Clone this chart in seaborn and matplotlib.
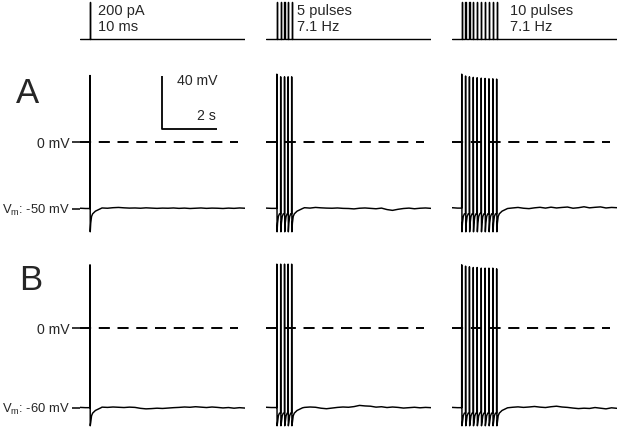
import numpy as np
import seaborn as sns
from matplotlib import pyplot as plt

# figure size in pixels (dpi 100)
W, H = 617, 430

# ---- data ----
row_names = ["A", "B"]
rest_mv = [-50, -60]                # resting potential of each row
trough_mv = [-67.5, -73.5]          # spike undershoot of each row

# stimulus pulse / spike times (s) for each column
spike_times = [
    [0.36],
    [0.39, 0.53, 0.67, 0.80, 0.93],
    [0.35, 0.49, 0.63, 0.77, 0.91, 1.06, 1.20, 1.34, 1.48, 1.62],
]

# spike peaks (mV), row A then row B
peaks_a = [
    [50],
    [51, 49, 49, 49, 49],
    [51, 49.6, 49, 48.6, 48.3, 48, 47.8, 47.5, 47.5, 47.3],
]
peaks_b = [
    [47.5],
    [48, 48, 48, 48, 48],
    [47.5, 46.5, 46, 45.5, 45.5, 45, 45, 45, 45, 44.5],
]

# afterhyperpolarisation after each spike: time after spike (s), offset from rest (mV)
ahp_dt = [0.03, 0.06, 0.10, 0.14, 0.20, 0.30, 0.40]
ahp_dv = [-11, -6, -4, -3.2, -2, -1, 0]

# baseline fluctuation (mV from rest), one value every 0.2 s from 0 to 6 s
noise_t = np.arange(31) * 0.2
noise_a = [
    [0.2, 0.0, 0.3, 0.1, 0.4, 0.2, 0.6, 0.8, 0.5, 0.3, 0.4, 0.2, 0.5, 0.3, 0.1, 0.3,
     0.2, 0.4, 0.1, 0.3, 0.0, 0.2, 0.4, 0.1, 0.3, 0.2, 0.0, 0.3, 0.1, 0.4, 0.2],
    [0.3, 0.1, 0.2, 0.0, 0.3, 0.5, 0.4, 0.6, 0.3, 0.8, 0.5, 0.3, 0.2, 0.4, 0.1, 0.0,
     -0.3, 0.2, 0.4, 0.1, -0.2, 0.3, -0.8, -1.4, -0.6, 0.0, 0.3, -0.2, 0.2, 0.4, 0.1],
    [0.6, 0.3, 0.5, 0.2, 0.4, 0.1, 0.3, 0.6, 0.9, 0.7, 1.2, 0.4, 0.8, 0.2, -0.1, 0.5,
     0.9, 0.3, 1.0, 0.4, 0.8, 1.1, 0.2, 0.6, 1.3, 0.5, 0.9, 1.2, 0.4, 0.8, 0.6],
]
noise_b = [
    [0.3, 0.1, 0.4, 0.2, 0.5, 0.3, 0.6, 0.4, 0.2, 0.5, 0.3, -0.4, -0.8, -0.6, -0.3, -0.5,
     -0.2, 0.1, 0.3, 0.6, 0.4, 0.8, 0.5, 0.2, 0.6, 0.3, -0.1, 0.2, -0.3, 0.1, -0.2],
    [0.4, 0.2, 0.3, 0.1, 0.4, 0.2, 0.5, 0.3, 0.6, 0.4, -0.3, -0.7, -0.2, 0.3, 0.6, 0.4,
     0.9, 1.8, 1.4, 1.2, 0.5, 0.8, 0.2, 0.6, 0.3, -0.2, 0.1, 0.4, 0.0, 0.3, 0.1],
    [0.3, 0.1, 0.4, 0.2, 0.5, 0.3, 0.2, 0.5, 0.3, 0.6, 0.9, 0.4, 0.7, 0.3, 0.6, 1.0,
     0.5, 0.2, 0.8, 1.2, 0.6, 0.3, -0.2, -0.6, -0.3, -0.5, 0.2, -0.3, -0.8, 0.0, -0.4],
]

# stimulus
stim_amp_pa = 200
pulse_width_s = 0.01
stim_labels = [("200 pA", "10 ms"), ("5 pulses", "7.1 Hz"), ("10 pulses", "7.1 Hz")]

# scale bar (s, mV) drawn in panel A, first column
scale_t = [3.0, 3.0, 5.0]
scale_v = [50.0, 10.0, 10.0]
zero_line_end_s = 5.75
trace_len_s = 6.0

# ---- layout (pixels) ----
col_x0 = [80, 266, 452]
px_per_s = 27.5
px_per_mv = 1.33
zero_px = [142, 328]
ylims = [(-75, 55), (-76, 55)]
stim_base_px = 39
stim_top_px = 2
label_x_px = [98, 297, 510]


def px_rect(left, top, right, bottom):
    return [left / W, 1 - bottom / H, (right - left) / W, (bottom - top) / H]


def build_trace(base, noise, spikes, peaks, trough):
    t, v = [], []
    for tt, nv in zip(noise_t, noise):
        if tt < spikes[0]:
            t.append(tt)
            v.append(base + nv)
    for i, ts in enumerate(spikes):
        nxt = spikes[i + 1] if i + 1 < len(spikes) else None
        t += [ts, ts + 0.004, ts + 0.012]
        v += [v[-1], peaks[i], base + trough]
        for dt, dv in zip(ahp_dt, ahp_dv):
            if nxt is not None and ts + dt > nxt - 0.002:
                break
            t.append(ts + dt)
            v.append(base + dv)
    end = spikes[-1] + ahp_dt[-1]
    for tt, nv in zip(noise_t, noise):
        if tt > end:
            t.append(tt)
            v.append(base + nv)
    return np.array(t), np.array(v)


sns.set_style("white")
plt.rcParams["font.family"] = ["Liberation Sans", "DejaVu Sans"]
plt.rcParams["mathtext.default"] = "regular"
plt.rcParams["lines.scale_dashes"] = False

fig = plt.figure(figsize=(W / 100, H / 100), dpi=100)

# stimulus traces
for c in range(3):
    x0 = col_x0[c]
    top_pa = stim_amp_pa * stim_base_px / (stim_base_px - stim_top_px)
    bot_pa = -stim_amp_pa * 3 / (stim_base_px - stim_top_px)
    ax = fig.add_axes(px_rect(x0, 0, x0 + trace_len_s * px_per_s, stim_base_px + 3))
    st, sv = [0.0], [0.0]
    for ts in spike_times[c]:
        st += [ts, ts, ts + pulse_width_s, ts + pulse_width_s]
        sv += [0, stim_amp_pa, stim_amp_pa, 0]
    st.append(trace_len_s)
    sv.append(0)
    sns.lineplot(x=st, y=sv, ax=ax, color="black", lw=1.0, estimator=None, sort=False)
    ax.set_xlim(0, trace_len_s)
    ax.set_ylim(bot_pa, top_pa)
    ax.axis("off")
    line1, line2 = stim_labels[c]
    fig.text(label_x_px[c] / W, 1 - 15 / H, line1, fontsize=10.5, va="baseline")
    fig.text(label_x_px[c] / W, 1 - 31 / H, line2, fontsize=10.5, va="baseline")

# voltage traces
for r in range(2):
    lo, hi = ylims[r]
    top = zero_px[r] - hi * px_per_mv
    bottom = zero_px[r] - lo * px_per_mv
    peaks = peaks_a if r == 0 else peaks_b
    noise = noise_a if r == 0 else noise_b
    for c in range(3):
        x0 = col_x0[c]
        ax = fig.add_axes(px_rect(x0, top, x0 + trace_len_s * px_per_s, bottom))
        t, v = build_trace(rest_mv[r], noise[c], spike_times[c], peaks[c], trough_mv[r] - rest_mv[r])
        sns.lineplot(x=t, y=v, ax=ax, color="black", lw=1.05, estimator=None, sort=False)
        ax.plot([0, zero_line_end_s], [0, 0], color="black", lw=1.4, dashes=(8, 5.5))
        ax.set_xlim(0, trace_len_s)
        ax.set_ylim(lo, hi)
        sns.despine(ax=ax, left=True, bottom=True)
        ax.set_xticks([])
        ax.set_xlabel("")
        ax.set_ylabel("")
        if c == 0:
            ax.set_yticks([0, rest_mv[r]])
            ax.set_yticklabels(["0 mV", "V$_m$: %d mV" % rest_mv[r]], fontsize=10.2)
            ax.get_yticklabels()[1].set_fontsize(9.4)
            ax.tick_params(axis="y", left=True, length=5.8, width=1.1, pad=1.5, color="black")
        else:
            ax.set_yticks([])
        if r == 0 and c == 0:
            ax.plot(scale_t, scale_v, color="black", lw=1.3, solid_capstyle="butt")
            ax.text(3.53, 42.9, "40 mV", fontsize=10.2, va="baseline")
            ax.text(4.95, 16.5, "2 s", fontsize=10.2, va="baseline", ha="right")
        ax.patch.set_alpha(0)

# panel letters
fig.text(16 / W, 1 - 103 / H, row_names[0], fontsize=25, va="baseline")
fig.text(19 / W, 1 - 290 / H, row_names[1], fontsize=25, va="baseline")

fig.savefig("out.png", dpi=100)
